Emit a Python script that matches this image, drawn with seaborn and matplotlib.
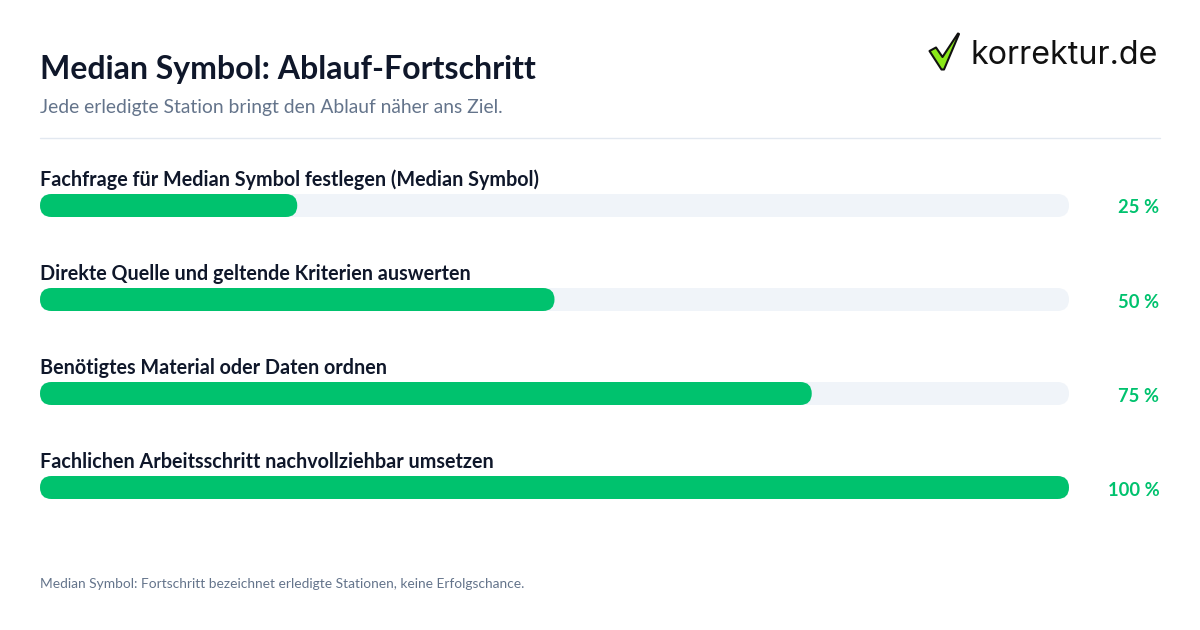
#!/usr/bin/env python3
import matplotlib
matplotlib.use('Agg')
import matplotlib.pyplot as plt
import pandas as pd
import seaborn as sns
from matplotlib.patches import FancyBboxPatch, PathPatch
from matplotlib.path import Path

# Daten
steps = [
    'Fachfrage für Median Symbol festlegen (Median Symbol)',
    'Direkte Quelle und geltende Kriterien auswerten',
    'Benötigtes Material oder Daten ordnen',
    'Fachlichen Arbeitsschritt nachvollziehbar umsetzen',
]
progress = [25, 50, 75, 100]
track = [100, 100, 100, 100]

title = 'Median Symbol: Ablauf-Fortschritt'
subtitle = 'Jede erledigte Station bringt den Ablauf näher ans Ziel.'
footnote = 'Median Symbol: Fortschritt bezeichnet erledigte Stationen, keine Erfolgschance.'

GREEN = '#00c26e'
TRACK = '#f0f4f9'
INK = '#0f172a'
MUTED = '#64748b'

W, H = 1200, 630

sns.set_style('white')
plt.rcParams['font.family'] = ['Lato', 'DejaVu Sans']

fig = plt.figure(figsize=(W / 100, H / 100), dpi=100, facecolor='white')


def px_text(x, y, s, **kw):
    """Text in Pixelkoordinaten (Ursprung oben links)"""
    return fig.text(x / W, 1 - y / H, s, **kw)


# Balkenbereich: 4 Zeilen mit je 94 px Abstand
ax = fig.add_axes([40 / W, 1 - 534.5 / H, 1029 / W, 376 / H])
df = pd.DataFrame({'step': steps, 'progress': progress, 'track': track})
bar_width = 23 / 94
sns.barplot(data=df, y='step', x='track', color=TRACK, width=bar_width, saturation=1, ax=ax)
sns.barplot(data=df, y='step', x='progress', color=GREEN, width=bar_width, saturation=1, ax=ax)
ax.set_xlim(0, 100)
ax.set_ylim(3.5, -0.5)
ax.axis('off')

# Rechtecke durch abgerundete Balken ersetzen
x_scale = 1029 / 100
y_scale = 94
for bar in list(ax.patches):
    x, y = bar.get_x(), bar.get_y()
    w, h = bar.get_width(), bar.get_height()
    color = bar.get_facecolor()
    bar.remove()
    ax.add_patch(FancyBboxPatch(
        (x, y), w, h,
        boxstyle=f'round,pad=0,rounding_size={11.5 / x_scale}',
        mutation_aspect=x_scale / y_scale,
        facecolor=color, edgecolor='none', clip_on=False,
    ))

# Beschriftungen
for i, (step, value) in enumerate(zip(steps, progress)):
    px_text(40, 179.5 + i * 94, step, fontsize=14.2, fontweight='bold', color=INK,
            ha='left', va='center')
    px_text(1159.5, 208 + i * 94, f'{value} %', fontsize=13.2, fontweight='bold', color=GREEN,
            ha='right', va='center')

px_text(40, 70, title, fontsize=23, fontweight='bold', color=INK, ha='left', va='center')
px_text(40, 107.5, subtitle, fontsize=13.87, color=MUTED, ha='left', va='center')
px_text(40, 584, footnote, fontsize=9.86, color=MUTED, ha='left', va='center')

# Trennlinie
fig.add_artist(plt.Line2D([40 / W, 1160 / W], [1 - 138 / H] * 2, color='#e2e8f0', linewidth=1))

# Logo
logo = fig.add_axes([0, 0, 1, 1], facecolor='none')
logo.set_xlim(0, W)
logo.set_ylim(H, 0)
logo.axis('off')
check = [(929.5, 51), (936, 47.5), (942.5, 57), (958, 33.5), (959, 34), (944, 69.5), (941.5, 69.5)]
logo.add_patch(PathPatch(Path(check + [check[0]], closed=True), facecolor='#8ae81a',
                         edgecolor='#111111', linewidth=1.5, joinstyle='round'))
px_text(970.5, 56, 'korrektur.de', fontsize=23.2, fontweight='normal', color='#111111',
        ha='left', va='center', family=['Inter', 'DejaVu Sans'])

fig.savefig('out.png', dpi=100, facecolor='white')
plt.close(fig)
